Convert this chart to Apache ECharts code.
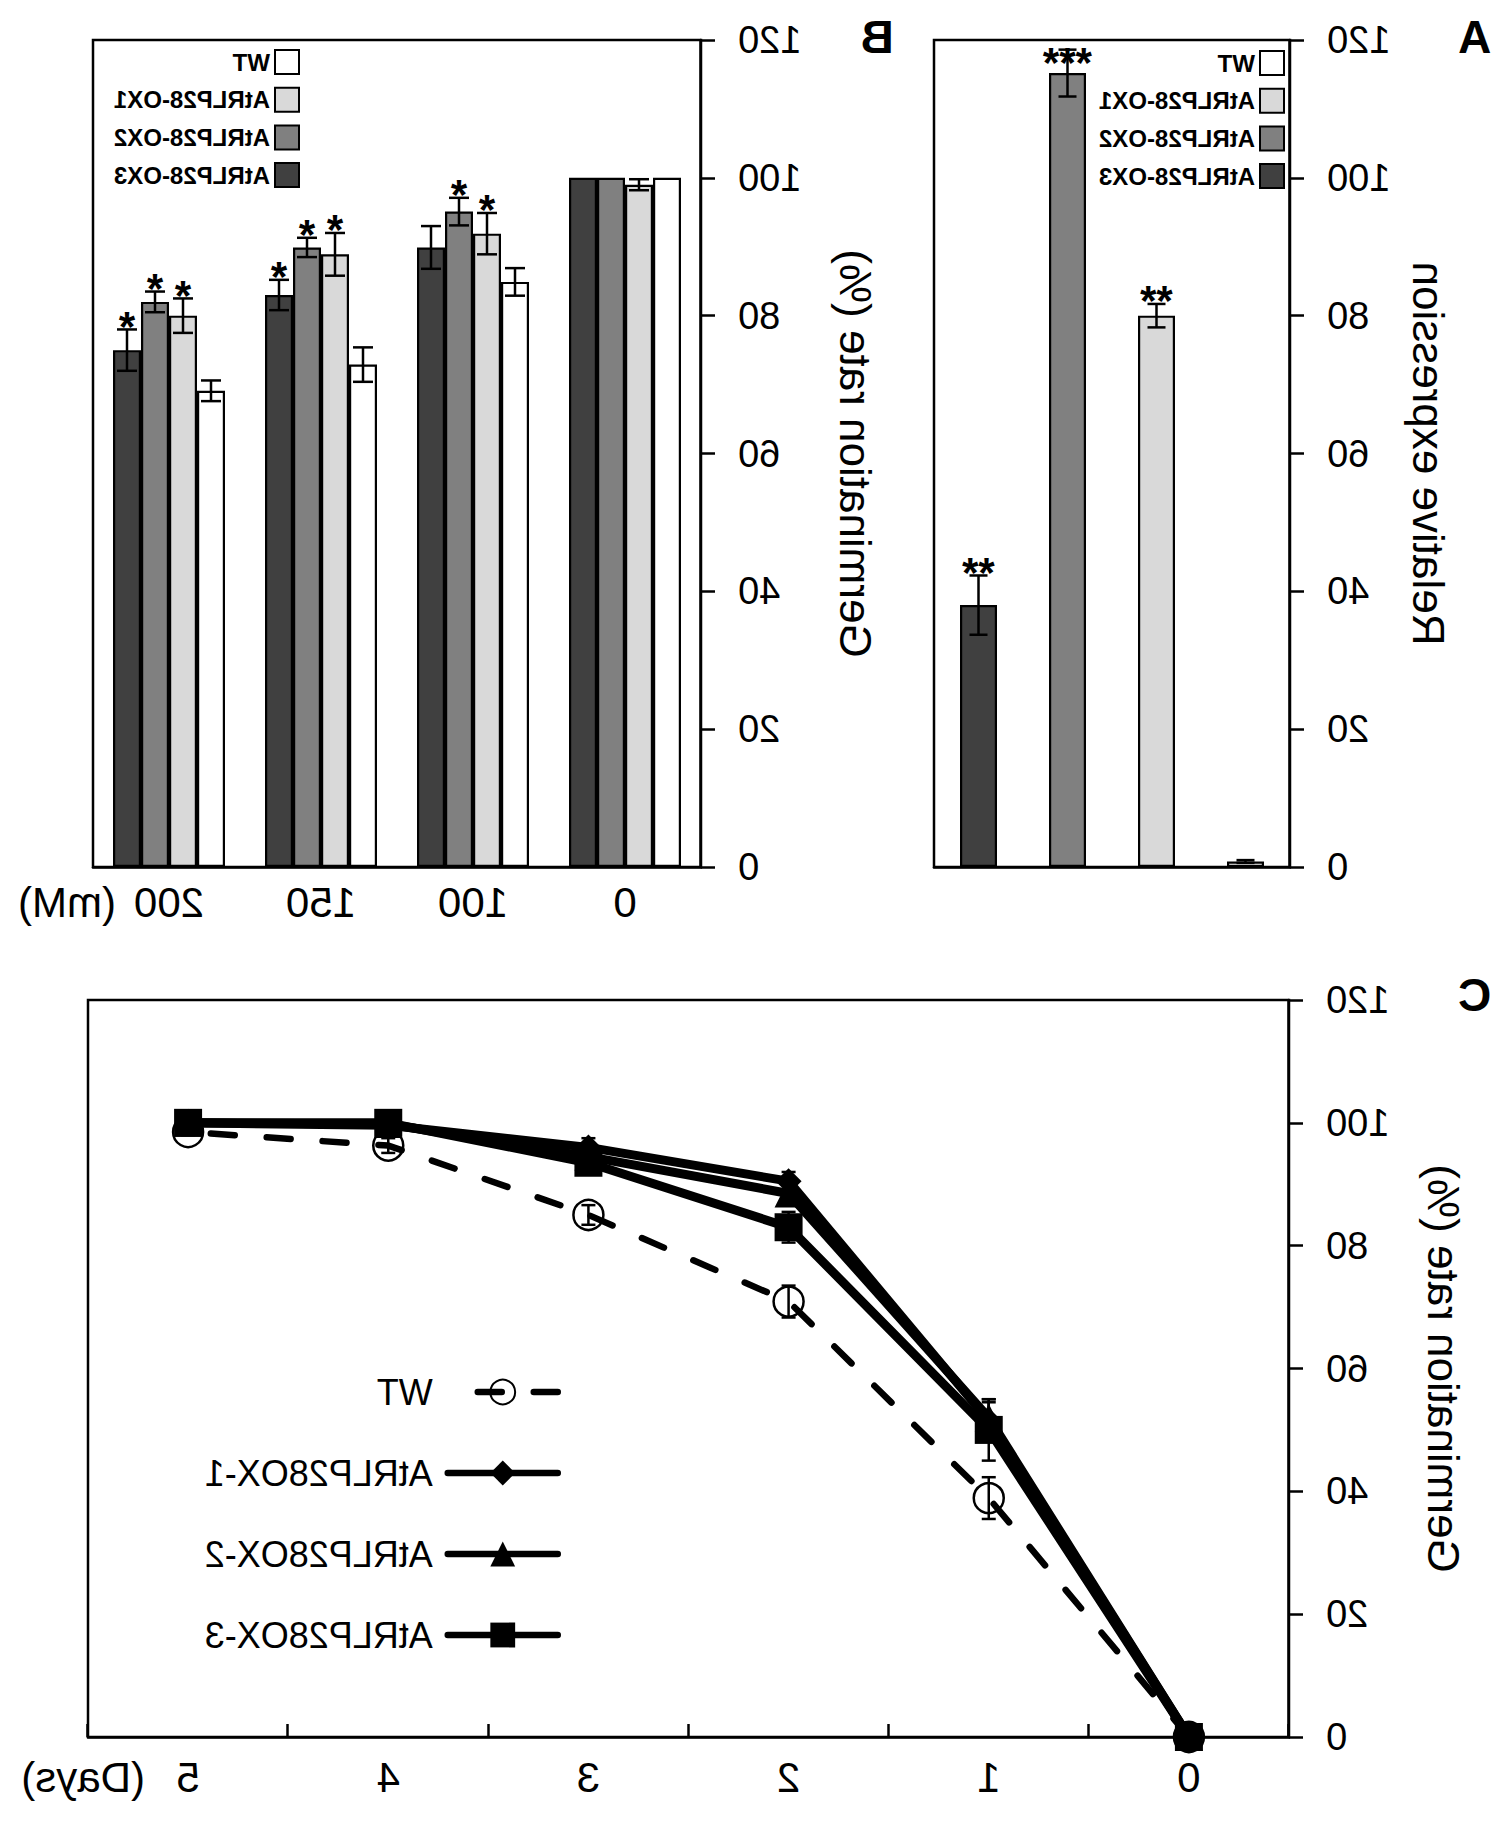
<!DOCTYPE html>
<html>
<head>
<meta charset="utf-8">
<script src="https://cdn.jsdelivr.net/npm/echarts@6/dist/echarts.min.js"></script>
<style>
html,body{margin:0;padding:0;background:#fff;overflow:hidden}
#chart{width:1512px;height:1821px;transform:scaleX(-1);transform-origin:center center}
</style>
</head>
<body>
<div id="chart"></div>
<script>
// ================= DATA =================
const lines = ['WT', 'AtRLP28-OX1', 'AtRLP28-OX2', 'AtRLP28-OX3'];

// Panel A: relative expression
const exprA    = [0.8, 80.0, 115.2, 38.0];
const exprErrA = [0.2, 1.7, 3.4, 4.3];
const exprSigA = ['', '**', '***', '**'];

// Panel B: germination rate under NaCl (mM)
const naclB     = ['0', '100', '150', '200'];
const germB_WT  = [100, 84.9, 72.9, 69.1];
const germB_OX1 = [99.0, 91.9, 88.9, 80.0];
const germB_OX2 = [100, 95.1, 89.9, 82.0];
const germB_OX3 = [100, 89.9, 83.0, 75.0];
const errB_WT   = [0, 2.0, 2.5, 1.5];
const errB_OX1  = [0.8, 3.0, 3.1, 2.5];
const errB_OX2  = [0, 2.0, 1.4, 1.5];
const errB_OX3  = [0, 3.1, 2.2, 3.0];
const sigB_WT   = ['', '', '', ''];
const sigB_OX1  = ['', '*', '*', '*'];
const sigB_OX2  = ['', '*', '*', '*'];
const sigB_OX3  = ['', '', '*', '*'];

// Panel C: germination time course (days)
const daysC     = ['0', '1', '2', '3', '4', '5'];
const linesC    = ['WT', 'AtRLP28OX-1', 'AtRLP28OX-2', 'AtRLP28OX-3'];
const germC_WT  = [0, 38.9, 70.9, 85.0, 96.3, 98.5];
const germC_OX1 = [0, 51.5, 90.5, 96.0, 99.6, 100];
const germC_OX2 = [0, 52.0, 88.5, 94.5, 99.8, 100];
const germC_OX3 = [0, 50.0, 83.0, 93.5, 100, 100];
const errC_WT   = [0, 3.4, 2.6, 1.6, 1.2, 0.5];
const errC_OX1  = [0, 3.0, 1.5, 1.5, 0.5, 0];
const errC_OX2  = [0, 3.0, 2.0, 1.5, 0.5, 0];
const errC_OX3  = [0, 5.0, 2.5, 1.5, 0.3, 0];

// Y axis ticks
const yMin = 0, yMax = 120, yStep = 20;

// ================= STYLE =================
const FONT = "'Liberation Sans', Arial, Helvetica, sans-serif";
const fills = ['#ffffff', '#d9d9d9', '#808080', '#404040'];
const BAR_W_A = 37, BAR_W_B = 28;
const C_PREFIX = 'C:';
const lineWidthsC = [6.5, 9, 9, 9];

const germB = [germB_WT, germB_OX1, germB_OX2, germB_OX3];
const errB  = [errB_WT, errB_OX1, errB_OX2, errB_OX3];
const sigB  = [sigB_WT, sigB_OX1, sigB_OX2, sigB_OX3];
const germC = [germC_WT, germC_OX1, germC_OX2, germC_OX3];
const errC  = [errC_WT, errC_OX1, errC_OX2, errC_OX3];

function errBar(api, xOff, sig, half, lw) {
  const i = api.value(0), m = api.value(1), e = api.value(2);
  const x = api.coord([i, m])[0] + xOff;
  const yH = api.coord([i, m + e])[1];
  const yL = api.coord([i, m - e])[1];
  const topPx = api.coord([i, yMax])[1];
  const st = {stroke: '#000', lineWidth: lw};
  const ch = [];
  if (e > 0) {
    ch.push({type: 'line', shape: {x1: x, y1: yH, x2: x, y2: yL}, style: st});
    ch.push({type: 'line', shape: {x1: x - half, y1: yH, x2: x + half, y2: yH}, style: st});
    ch.push({type: 'line', shape: {x1: x - half, y1: yL, x2: x + half, y2: yL}, style: st});
  }
  if (sig) {
    ch.push({type: 'text', style: {
      text: sig, x: x, y: Math.max(yH - 3, topPx + 22),
      align: 'center', verticalAlign: 'middle', textAlign: 'center', textVerticalAlign: 'middle',
      fontSize: 42, fontWeight: 'bold', fontFamily: FONT, fill: '#000'}});
  }
  return {type: 'group', children: ch};
}

function yAx(gi, name, gap) {
  return {
    type: 'value', gridIndex: gi, min: yMin, max: yMax, interval: yStep,
    axisLine: {show: true, lineStyle: {color: '#000', width: 2.5}},
    axisTick: {show: true, inside: false, length: 14, lineStyle: {color: '#000', width: 2.5}},
    axisLabel: {color: '#000', fontSize: 38, fontFamily: FONT, margin: 37},
    splitLine: {show: false},
    name: name, nameLocation: 'middle', nameGap: gap, nameMoveOverlap: false,
    nameTextStyle: {color: '#000', fontSize: 44, fontFamily: FONT}
  };
}

const gridStyle = {show: true, borderColor: '#000', borderWidth: 2.5, backgroundColor: 'transparent',
  containLabel: false, outerBoundsMode: 'none'};

const series = [];
// Panel A bars
lines.forEach((nm, i) => {
  series.push({
    type: 'bar', name: nm, xAxisIndex: 0, yAxisIndex: 0, barWidth: BAR_W_A, barGap: '-100%',
    data: lines.map((_, j) => j === i ? exprA[i] : '-'),
    itemStyle: {color: fills[i], borderColor: '#000', borderWidth: 2.2}, silent: true
  });
});
series.push({
  type: 'custom', xAxisIndex: 0, yAxisIndex: 0, z: 5, silent: true,
  data: exprA.map((v, i) => [i, v, exprErrA[i]]),
  renderItem: (p, api) => errBar(api, 0, exprSigA[api.value(0)], 9, 2.5)
});
// Panel B bars
lines.forEach((nm, i) => {
  series.push({
    type: 'bar', name: nm, xAxisIndex: 1, yAxisIndex: 1, barWidth: BAR_W_B, barGap: '0%',
    data: germB[i],
    itemStyle: {color: fills[i], borderColor: '#000', borderWidth: 2.2}, silent: true
  });
});
lines.forEach((nm, i) => {
  series.push({
    type: 'custom', xAxisIndex: 1, yAxisIndex: 1, z: 5, silent: true,
    data: germB[i].map((v, j) => [j, v, errB[i][j]]),
    renderItem: (p, api) => errBar(api, (i - 1.5) * BAR_W_B, sigB[i][api.value(0)], 10, 2.5)
  });
});
// Panel C lines
const symbols = ['circle', 'diamond', 'triangle', 'rect'];
const symSizes = [30, 26, 28, 28];
linesC.forEach((nm, i) => {
  series.push({
    type: 'line', name: C_PREFIX + nm, xAxisIndex: 2, yAxisIndex: 2, data: germC[i],
    symbol: symbols[i], symbolSize: symSizes[i], showSymbol: true, showAllSymbol: true,
    lineStyle: {color: '#000', width: lineWidthsC[i], type: i === 0 ? [24, 32] : 'solid', cap: 'round', join: 'round'},
    itemStyle: i === 0 ? {color: 'rgba(255,255,255,0)', borderColor: '#000', borderWidth: 2.5}
                       : {color: '#000', borderColor: '#000', borderWidth: 0},
    emphasis: {disabled: true},
    z: 2 + i, silent: true
  });
});
linesC.forEach((nm, i) => {
  series.push({
    type: 'custom', xAxisIndex: 2, yAxisIndex: 2, z: 8, silent: true,
    data: germC[i].map((v, j) => [j, v, errC[i][j]]),
    renderItem: (p, api) => errBar(api, 0, '', 7, 2.5)
  });
});

const legendBox = {
  orient: 'vertical', padding: 0, itemWidth: 24, itemHeight: 24, itemGap: 11.7,
  data: lines, icon: 'rect', selectedMode: false,
  itemStyle: {borderColor: '#000', borderWidth: 2},
  textStyle: {fontSize: 24, fontWeight: 'bold', color: '#000', fontFamily: FONT}
};

function label(text, x, y, size, weight, align) {
  return {type: 'text', x: 0, y: 0, silent: true, style: {
    text: text, x: x, y: y, fontSize: size, fontWeight: weight, fontFamily: FONT, fill: '#000',
    align: align, verticalAlign: 'middle', textAlign: align, textVerticalAlign: 'middle'}};
}

const option = {
  animation: false,
  backgroundColor: '#fff',
  textStyle: {fontFamily: FONT, color: '#000'},
  grid: [
    Object.assign({left: 222, top: 40, width: 356, height: 827}, gridStyle),
    Object.assign({left: 811, top: 40, width: 608, height: 827}, gridStyle),
    Object.assign({left: 223, top: 1000, width: 1201, height: 737}, gridStyle)
  ],
  xAxis: [
    {type: 'category', gridIndex: 0, data: lines,
     axisLine: {lineStyle: {color: '#000', width: 2.5}}, axisTick: {show: false}, axisLabel: {show: false}},
    {type: 'category', gridIndex: 1, data: naclB,
     axisLine: {lineStyle: {color: '#000', width: 2.5}}, axisTick: {show: false},
     axisLabel: {color: '#000', fontSize: 42, margin: 14, fontFamily: FONT}},
    {type: 'category', gridIndex: 2, data: daysC, boundaryGap: true,
     axisLine: {lineStyle: {color: '#000', width: 2.5}},
     axisTick: {show: true, inside: true, length: 13, alignWithLabel: false, lineStyle: {color: '#000', width: 2.5}},
     axisLabel: {color: '#000', fontSize: 42, margin: 19, fontFamily: FONT}}
  ],
  yAxis: [
    yAx(0, 'Relative expression', 116),
    yAx(1, 'Germination rate (%)', 132),
    yAx(2, 'Germination rate (%)', 132)
  ],
  legend: [
    Object.assign({left: 227, top: 50}, legendBox),
    Object.assign({left: 1212, top: 49}, legendBox),
    {orient: 'vertical', left: 951, top: 1374, padding: 0, itemWidth: 110, itemHeight: 31, itemGap: 45,
     data: linesC.map(n => C_PREFIX + n), selectedMode: false,
     formatter: n => n.slice(C_PREFIX.length),
     lineStyle: {width: 6.5},
     textStyle: {fontSize: 36, color: '#000', fontFamily: FONT, padding: [0, 0, 0, 10]}}
  ],
  graphic: [
    label('A', 37.5, 37, 46, 'bold', 'center'),
    label('B', 635, 37, 46, 'bold', 'center'),
    label('C', 37.5, 995, 46, 'bold', 'center'),
    label('(mM)', 1396, 902, 42, 'normal', 'left'),
    label('(Days)', 1367, 1777, 42, 'normal', 'left')
  ],
  series: series
};

const chart = echarts.init(document.getElementById('chart'), null, {renderer: 'svg', width: 1512, height: 1821});
chart.setOption(option);
</script>
</body>
</html>
